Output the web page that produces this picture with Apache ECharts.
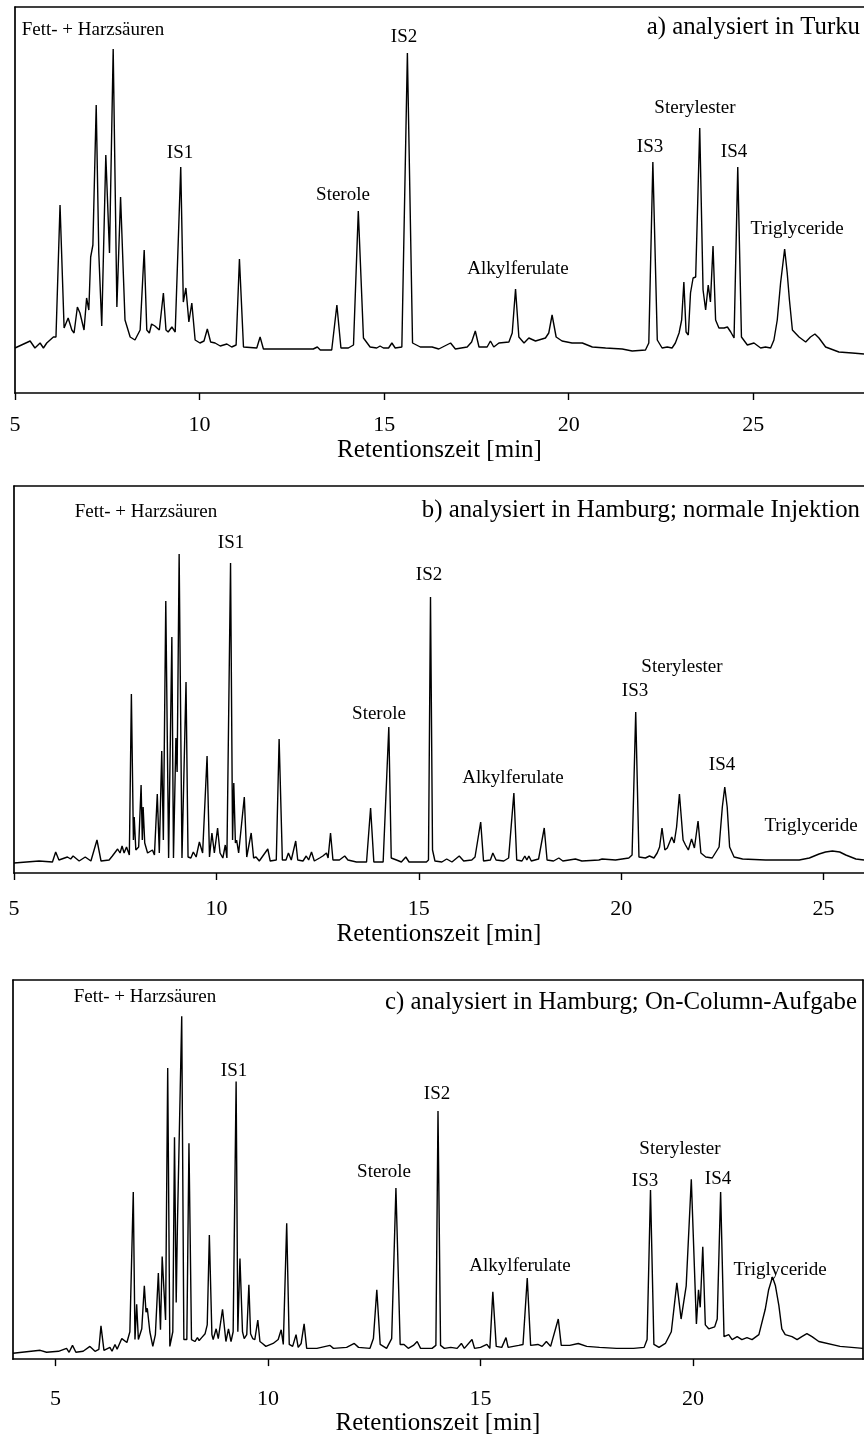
<!DOCTYPE html>
<html>
<head>
<meta charset="utf-8">
<script src="https://cdn.jsdelivr.net/npm/echarts@6/dist/echarts.min.js"></script>
<style>
  html, body { margin: 0; padding: 0; background: #fff; }
  #chart { width: 864px; height: 1437px; }
</style>
</head>
<body>
<div id="chart"></div>
<script>
// traces: [retention time in min, detector signal (arb. units)]
const turkuTrace = [
  [5.00,45],[5.41,52],[5.54,45],[5.68,50],[5.77,45],[5.86,50],[5.95,53],[6.04,56],[6.11,56],[6.22,188],
  [6.33,65],[6.44,75],[6.54,63],[6.60,60],[6.69,86],[6.76,80],[6.81,81],[6.87,63],[6.94,95],[7.00,83],
  [7.05,136],[7.11,148],[7.20,288],[7.27,140],[7.35,67],[7.46,238],[7.56,140],[7.66,344],[7.76,86],[7.86,196],
  [7.98,73],[8.12,56],[8.25,53],[8.39,63],[8.50,143],[8.57,63],[8.64,60],[8.70,69],[8.79,67],[8.91,63],
  [9.02,100],[9.09,63],[9.15,61],[9.25,66],[9.34,61],[9.38,63],[9.49,226],[9.56,91],[9.63,105],[9.71,71],
  [9.79,90],[9.88,53],[10.01,50],[10.12,52],[10.21,64],[10.30,51],[10.42,50],[10.56,47],[10.74,49],[10.87,46],
  [10.99,48],[11.08,134],[11.19,46],[11.55,45],[11.64,56],[11.73,44],[12.45,44],[13.08,44],[13.19,46],[13.27,43],
  [13.58,43],[13.72,88],[13.83,45],[14.03,45],[14.17,48],[14.30,182],[14.44,55],[14.62,46],[14.80,45],[14.89,47],
  [14.98,45],[15.12,45],[15.21,50],[15.30,45],[15.48,46],[15.63,340],[15.77,50],[15.98,46],[16.30,46],[16.48,44],
  [16.80,50],[16.93,44],[17.25,46],[17.37,51],[17.47,62],[17.57,46],[17.79,46],[17.88,52],[17.97,46],[18.11,50],
  [18.38,51],[18.47,60],[18.56,104],[18.65,56],[18.79,50],[18.92,55],[19.10,52],[19.37,55],[19.46,60],[19.55,78],
  [19.66,56],[19.82,52],[20.09,50],[20.37,50],[20.64,46],[21.00,45],[21.45,44],[21.72,42],[22.08,43],[22.17,50],
  [22.28,231],[22.40,53],[22.53,45],[22.67,46],[22.80,45],[22.89,50],[22.99,60],[23.06,73],[23.12,111],[23.18,61],
  [23.24,58],[23.30,100],[23.37,115],[23.44,116],[23.55,265],[23.64,103],[23.71,83],[23.78,108],[23.84,91],[23.91,147],
  [23.98,73],[24.07,65],[24.21,65],[24.30,66],[24.39,61],[24.48,55],[24.58,226],[24.68,56],[24.84,48],[25.02,50],
  [25.20,45],[25.33,46],[25.47,45],[25.56,53],[25.65,73],[25.74,110],[25.85,144],[25.92,120],[25.98,93],[26.06,63],
  [26.24,56],[26.42,51],[26.55,56],[26.67,59],[26.78,55],[26.96,46],[27.32,41],[27.68,40],[28.00,39]
];

const hamburgNormalTrace = [
  [5.00,10],[5.62,12],[5.95,11],[6.03,21],[6.11,13],[6.32,16],[6.40,14],[6.46,17],[6.61,12],[6.76,16],
  [6.90,12],[7.05,33],[7.15,12],[7.35,13],[7.43,17],[7.56,24],[7.62,20],[7.67,27],[7.72,20],[7.78,26],
  [7.85,18],[7.90,179],[7.95,33],[7.97,56],[8.01,23],[8.08,26],[8.14,88],[8.17,33],[8.19,66],[8.23,30],
  [8.30,20],[8.42,23],[8.47,18],[8.54,79],[8.59,20],[8.65,122],[8.69,33],[8.75,272],[8.82,15],[8.90,236],
  [8.94,15],[9.00,135],[9.03,101],[9.08,319],[9.15,15],[9.25,191],[9.30,16],[9.37,15],[9.43,21],[9.50,16],
  [9.58,31],[9.66,20],[9.77,117],[9.83,16],[9.89,40],[9.95,20],[10.03,45],[10.09,20],[10.16,15],[10.22,28],
  [10.26,15],[10.35,310],[10.40,33],[10.43,90],[10.47,30],[10.50,33],[10.55,20],[10.69,76],[10.75,16],[10.86,40],
  [10.92,15],[10.98,16],[11.06,12],[11.27,24],[11.33,12],[11.48,13],[11.55,134],[11.63,13],[11.72,13],[11.78,20],
  [11.85,13],[11.96,32],[12.01,13],[12.14,12],[12.22,17],[12.28,13],[12.35,21],[12.42,12],[12.55,15],[12.63,17],
  [12.72,20],[12.76,15],[12.82,40],[12.88,13],[13.04,13],[13.17,17],[13.25,13],[13.46,11],[13.71,11],[13.81,65],
  [13.89,11],[14.12,11],[14.26,146],[14.32,15],[14.45,13],[14.57,11],[14.68,16],[14.76,11],[15.19,11],[15.24,13],
  [15.29,276],[15.34,23],[15.40,12],[15.57,11],[15.69,14],[15.82,11],[16.00,17],[16.11,12],[16.31,13],[16.39,16],
  [16.53,51],[16.60,12],[16.77,13],[16.83,20],[16.91,13],[17.10,12],[17.22,15],[17.35,80],[17.42,13],[17.55,12],
  [17.62,17],[17.67,13],[17.72,17],[17.78,12],[17.96,14],[18.10,45],[18.17,13],[18.33,12],[18.46,15],[18.56,12],
  [18.87,14],[19.03,12],[19.45,13],[19.53,14],[19.86,13],[20.19,15],[20.27,18],[20.36,161],[20.44,16],[20.60,15],
  [20.70,17],[20.81,15],[20.89,20],[20.95,26],[21.01,45],[21.08,23],[21.14,25],[21.25,36],[21.31,30],[21.37,46],
  [21.44,79],[21.53,33],[21.59,28],[21.66,23],[21.74,34],[21.81,25],[21.90,52],[21.97,20],[22.09,16],[22.25,15],
  [22.42,26],[22.50,66],[22.56,86],[22.62,66],[22.68,26],[22.79,16],[23.00,14],[23.57,13],[24.40,13],[24.65,15],
  [24.89,19],[25.05,21],[25.22,22],[25.40,21],[25.55,18],[25.80,14],[26.00,13]
];

const hamburgOnColumnTrace = [
  [4.00,6],[4.64,9],[4.79,7],[5.07,8],[5.26,11],[5.32,7],[5.40,14],[5.48,7],[5.65,8],[5.81,13],
  [5.93,8],[6.02,10],[6.07,34],[6.14,9],[6.28,12],[6.33,8],[6.40,15],[6.45,10],[6.56,21],[6.68,17],
  [6.75,28],[6.83,171],[6.87,20],[6.91,56],[6.95,20],[7.03,31],[7.09,75],[7.13,48],[7.16,52],[7.22,28],
  [7.29,13],[7.35,25],[7.42,88],[7.47,30],[7.51,105],[7.55,107],[7.59,40],[7.64,298],[7.69,13],[7.76,28],
  [7.80,227],[7.84,58],[7.87,140],[7.91,138],[7.97,351],[8.02,20],[8.09,20],[8.14,221],[8.20,20],[8.28,18],
  [8.34,22],[8.38,19],[8.44,22],[8.52,26],[8.57,35],[8.62,127],[8.68,25],[8.71,20],[8.78,31],[8.83,21],
  [8.93,51],[9.01,18],[9.07,31],[9.13,18],[9.18,28],[9.25,284],[9.29,28],[9.34,103],[9.40,28],[9.44,21],
  [9.50,25],[9.55,76],[9.59,26],[9.64,21],[9.69,20],[9.76,40],[9.81,18],[9.87,16],[9.95,13],[10.12,16],
  [10.24,20],[10.31,30],[10.36,15],[10.44,139],[10.50,15],[10.58,13],[10.66,25],[10.71,12],[10.78,16],[10.85,36],
  [10.91,11],[11.15,11],[11.46,14],[11.54,11],[11.85,12],[12.03,16],[12.13,12],[12.40,11],[12.48,21],[12.56,71],
  [12.64,15],[12.79,11],[12.91,21],[13.01,175],[13.11,15],[13.20,15],[13.30,11],[13.42,14],[13.51,18],[13.59,11],
  [13.86,11],[13.95,14],[14.00,254],[14.06,14],[14.15,11],[14.30,12],[14.45,11],[14.55,16],[14.62,11],[14.80,20],
  [14.86,11],[15.00,12],[15.15,15],[15.22,11],[15.29,69],[15.37,13],[15.50,12],[15.60,22],[15.65,12],[15.90,14],
  [16.00,15],[16.10,83],[16.18,14],[16.35,15],[16.45,13],[16.55,18],[16.65,13],[16.83,41],[16.90,14],[17.10,14],
  [17.30,16],[17.50,13],[17.80,12],[18.20,11],[18.60,11],[18.85,12],[18.92,20],[19.00,173],[19.08,15],[19.20,12],
  [19.35,16],[19.49,28],[19.62,78],[19.72,41],[19.84,75],[19.96,184],[20.08,36],[20.13,71],[20.17,53],[20.23,115],
  [20.29,35],[20.37,31],[20.51,33],[20.57,41],[20.65,171],[20.73,23],[20.84,25],[20.92,20],[21.04,23],[21.15,20],
  [21.27,22],[21.39,20],[21.55,25],[21.70,51],[21.78,71],[21.87,84],[21.94,75],[22.02,55],[22.09,31],[22.17,25],
  [22.33,23],[22.45,20],[22.56,23],[22.68,26],[22.80,23],[22.96,18],[23.46,13],[24.00,11]
];

const tickLabels = [
  [5, 10, 15, 20, 25],
  [5, 10, 15, 20, 25],
  [5, 10, 15, 20]
];
const timeRanges = [[5, 28], [5, 26], [4, 24]];
const panelTitles = [
  "a) analysiert in Turku",
  "b) analysiert in Hamburg; normale Injektion",
  "c) analysiert in Hamburg; On-Column-Aufgabe"
];
const peakNames = ["Fett- + Harzsäuren", "IS1", "Sterole", "IS2", "Alkylferulate", "IS3", "Sterylester", "IS4", "Triglyceride"];
const axisTitle = "Retentionszeit [min]";

// layout (pixels)
const FONT = "'Liberation Serif', 'Times New Roman', serif";
const grids = [
  { left: 15, right: 0, top: 7, height: 386 },
  { left: 14, right: 0, top: 486, height: 387 },
  { left: 13, right: 1, top: 980, height: 388 }
];
const labelMargins = [21, 25, 29];
const nameGaps = [45, 49, 49];
const labelSpots = [
  [[93, 30], [180, 153], [343, 195], [404, 37], [518, 269], [650, 147], [695, 108], [734, 152], [797, 229]],
  [[146, 512], [231, 543], [379, 714], [429, 575], [513, 778], [635, 691], [682, 667], [722, 765], [811, 826]],
  [[145, 997], [234, 1071], [384, 1172], [437, 1094], [520, 1266], [645, 1181], [680, 1149], [718, 1179], [780, 1270]]
];
const titleSpots = [[860, 27], [860, 510], [857, 1002]];

const traces = [turkuTrace, hamburgNormalTrace, hamburgOnColumnTrace];

const chart = echarts.init(document.getElementById("chart"), null, { renderer: "canvas" });

const xAxes = [];
const yAxes = [];
const series = [];
const graphics = [];

grids.forEach((g, i) => {
  const [tmin, tmax] = timeRanges[i];
  // bottom time axis
  xAxes.push({
    type: "value",
    gridIndex: i,
    min: tmin,
    max: tmax,
    position: "bottom",
    name: axisTitle,
    nameLocation: "middle",
    nameGap: nameGaps[i],
    nameTextStyle: { fontFamily: FONT, fontSize: 25, color: "#000" },
    axisLine: { show: true, onZero: false, lineStyle: { color: "#000", width: 1.7 } },
    axisTick: { show: true, length: 7, customValues: tickLabels[i], lineStyle: { color: "#000", width: 1.4 } },
    axisLabel: { show: true, customValues: tickLabels[i], margin: labelMargins[i], fontFamily: FONT, fontSize: 22, color: "#000" },
    splitLine: { show: false }
  });
  // top frame line
  xAxes.push({
    type: "value",
    gridIndex: i,
    min: tmin,
    max: tmax,
    position: "top",
    axisLine: { show: true, onZero: false, lineStyle: { color: "#000", width: 1.7 } },
    axisTick: { show: false },
    axisLabel: { show: false },
    splitLine: { show: false }
  });
  yAxes.push({
    type: "value",
    gridIndex: i,
    min: 0,
    max: g.height,
    position: "left",
    axisLine: { show: true, onZero: false, lineStyle: { color: "#000", width: 1.7 } },
    axisTick: { show: false },
    axisLabel: { show: false },
    splitLine: { show: false }
  });
  if (i === 2) {
    // right frame line only on panel c (a and b run off the page edge)
    yAxes.push({
      type: "value",
      gridIndex: i,
      min: 0,
      max: g.height,
      position: "right",
      axisLine: { show: true, onZero: false, lineStyle: { color: "#000", width: 1.7 } },
      axisTick: { show: false },
      axisLabel: { show: false },
      splitLine: { show: false }
    });
  }
  series.push({
    type: "line",
    xAxisIndex: i * 2,
    yAxisIndex: i,
    data: traces[i],
    showSymbol: false,
    symbol: "none",
    silent: true,
    animation: false,
    lineStyle: { color: "#000", width: 1.4 },
    z: 3
  });

  peakNames.forEach((name, k) => {
    const [x, y] = labelSpots[i][k];
    graphics.push({
      type: "text",
      x: x,
      y: y,
      silent: true,
      style: {
        text: name,
        font: "19px " + FONT,
        fill: "#000",
        align: "center",
        verticalAlign: "middle",
        textAlign: "center",
        textVerticalAlign: "middle"
      }
    });
  });
  const [tx, ty] = titleSpots[i];
  graphics.push({
    type: "text",
    x: tx,
    y: ty,
    silent: true,
    style: {
      text: panelTitles[i],
      font: "24.8px " + FONT,
      fill: "#000",
      align: "right",
      verticalAlign: "middle",
      textAlign: "right",
      textVerticalAlign: "middle"
    }
  });
});

chart.setOption({
  animation: false,
  backgroundColor: "#fff",
  grid: grids.map(g => Object.assign({ containLabel: false }, g)),
  xAxis: xAxes,
  yAxis: yAxes,
  series: series,
  graphic: graphics
});
</script>
</body>
</html>
